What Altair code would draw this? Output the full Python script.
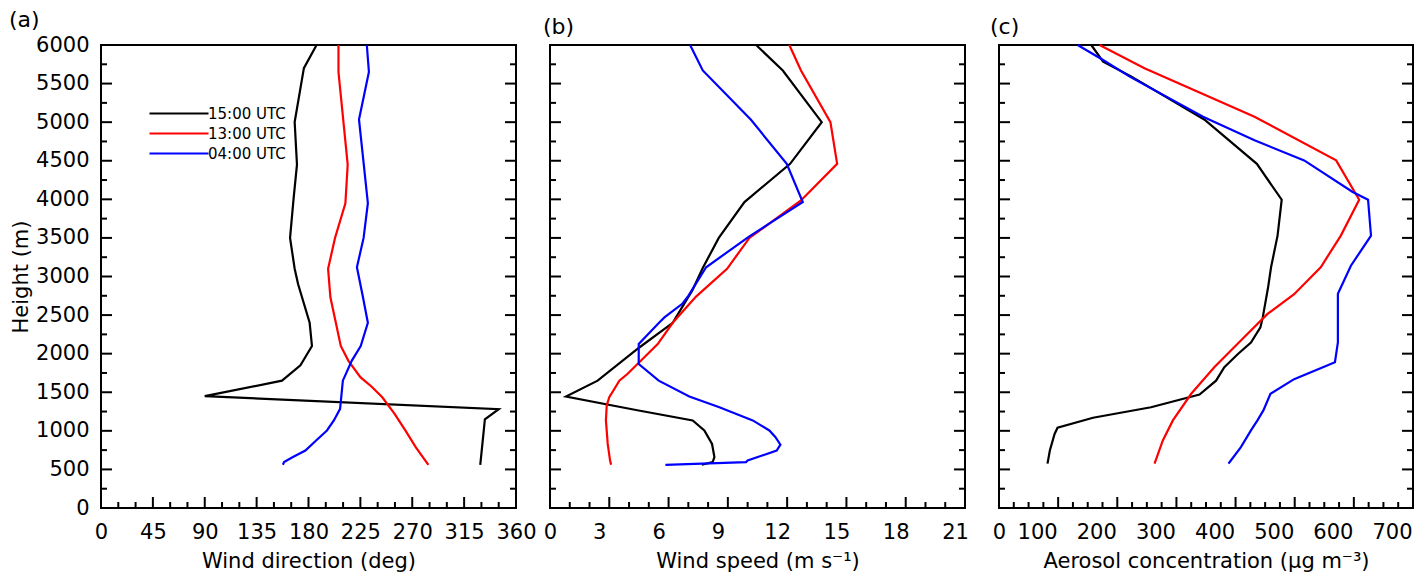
import altair as alt
import pandas as pd

SERIES = ["15:00 UTC", "13:00 UTC", "04:00 UTC"]
COLORS = ["#000000", "#ff0000", "#0000ff"]
FONT = "DejaVu Sans"

# ---------------- Panel (a): wind direction (deg) ----------------
dir_h_15 = [6000, 5700, 5000, 4450, 4000, 3500, 3100, 2900, 2400, 2100, 1850, 1650, 1450, 1280, 1150, 1000, 560]
dir_v_15 = [187, 176, 168, 170, 167, 164, 168, 171, 181, 183, 173, 157, 90, 345, 333, 332, 329]
dir_h_13 = [6000, 5650, 4450, 3950, 3500, 3100, 2730, 2100, 1910, 1695, 1575, 1435, 1220, 1005, 790, 560]
dir_v_13 = [206, 206, 214, 212, 203, 197, 199, 208, 214.5, 225, 234.6, 244, 254.7, 264, 273, 284]
dir_h_04 = [6000, 5650, 5035, 3950, 3500, 3120, 2750, 2400, 2100, 1910, 1650, 1285, 1135, 1005, 875, 745, 660, 595, 560]
dir_v_04 = [230.6, 232.4, 223.8, 231.5, 227.8, 222, 227, 231.5, 225.3, 217.6, 209.8, 207.4, 202, 196, 186.6, 177.3, 166.5, 158.8, 157.8]

# ---------------- Panel (b): wind speed (m s-1) ----------------
spd_h_15 = [6000, 5670, 5000, 4460, 3965, 3500, 3110, 2820, 2400, 2080, 1650, 1445, 1270, 1135, 1005, 830, 660, 595, 560]
spd_v_15 = [10.43, 11.78, 13.75, 12.15, 9.84, 8.54, 7.73, 7.2, 6.21, 4.52, 2.41, 0.81, 4.35, 7.22, 7.81, 8.2, 8.32, 8.23, 7.68]
spd_h_13 = [6000, 5670, 5000, 4460, 3985, 3500, 3100, 2740, 2400, 2125, 1995, 1740, 1650, 1520, 1435, 1330, 1135, 830, 615, 560]
spd_v_13 = [12.11, 12.70, 14.19, 14.53, 12.70, 10.09, 8.96, 7.39, 6.21, 5.45, 4.94, 3.93, 3.51, 3.2, 3.0, 2.87, 2.83, 2.92, 3.04, 3.09]
spd_h_04 = [6000, 5670, 5030, 4460, 3965, 3520, 3120, 2750, 2650, 2470, 2405, 2125, 1865, 1650, 1445, 1305, 1135, 1005, 920, 820, 745, 615, 595, 560]
spd_v_04 = [7.09, 7.73, 10.17, 11.98, 12.79, 10.09, 7.9, 7.0, 6.71, 5.79, 5.53, 4.49, 4.49, 5.5, 7.05, 8.57, 10.26, 11.1, 11.4, 11.66, 11.47, 10.0, 9.92, 5.84]

# ---------------- Panel (c): aerosol concentration (ug m-3) ----------------
aer_h_15 = [6000, 5785, 5590, 5035, 4460, 3995, 3530, 3120, 2860, 2470, 2340, 2145, 1995, 1825, 1650, 1470, 1305, 1170, 1040, 960, 745, 575]
aer_v_15 = [156, 176, 224, 347, 436, 478, 471, 460, 455, 446, 442, 426, 404, 381, 367, 339, 257, 159, 99, 94, 86, 82]
aer_h_13 = [6000, 5700, 5070, 4505, 3995, 3530, 3120, 2770, 2515, 2170, 1825, 1480, 1135, 875, 575]
aer_v_13 = [170, 246, 432, 570, 609, 578, 544, 499, 454, 409, 364, 325, 294, 277, 263]
aer_h_04 = [6000, 5805, 5590, 5070, 4765, 4505, 4095, 3995, 3530, 3140, 2775, 2145, 1890, 1670, 1480, 1265, 1135, 1005, 790, 615, 575]
aer_v_04 = [133, 176, 221, 345, 432, 516, 598, 624, 629, 595, 573, 573, 568, 499, 459, 447, 437, 426, 409, 392, 388]

Y_MAJOR = list(range(0, 6001, 500))
Y_MINOR = list(range(250, 6000, 500))

H = 463
MAJ = 11
MIN = 6


def make_df(hs, vs):
    rows = []
    for name, h, v in zip(SERIES, hs, vs):
        for hh, vv in zip(h, v):
            rows.append({"series": name, "height": hh, "value": vv})
    return pd.DataFrame(rows)


def panel(df, W, xdomain, xmajor, xminor, xtitle, shift, show_y, show_legend, label, label_dx):
    xscale = alt.Scale(domain=xdomain, nice=False, zero=False)
    yscale = alt.Scale(domain=[0, 6000], nice=False)
    if shift == 0:
        loff = 0
    else:
        loff = {"condition": {"test": "datum.value == 0", "value": 0}, "value": shift}
    xaxis = alt.Axis(values=xmajor, title=xtitle, ticks=False, tickSize=0, domain=False, grid=False,
                     labelPadding=13, titlePadding=8, labelFlush=False, labelOverlap=False,
                     labelOffset=loff, format="d")
    if show_y:
        yaxis = alt.Axis(values=Y_MAJOR, title="Height (m)", ticks=False, tickSize=0, domain=False,
                         grid=False, labelPadding=12, titlePadding=4, labelFlush=False,
                         labelOverlap=False, format="d")
    else:
        yaxis = None

    if show_legend:
        legend = alt.Legend(title=None, orient="none", legendX=46, legendY=61,
                            symbolType="M-1,0L10.8,0", symbolSize=100, symbolStrokeWidth=2,
                            labelFontSize=15, labelFont=FONT, labelColor="black",
                            labelOffset=46, rowPadding=4, padding=0)
    else:
        legend = None

    lines = alt.Chart(df).mark_line(strokeWidth=2.2).encode(
        x=alt.X("value:Q", scale=xscale, axis=xaxis),
        y=alt.Y("height:Q", scale=yscale, axis=yaxis),
        color=alt.Color("series:N", scale=alt.Scale(domain=SERIES, range=COLORS), legend=legend),
        order=alt.Order("height:Q"),
    )

    def yticks(vals, ln, right):
        d = pd.DataFrame({"v": vals})
        if right:
            xs = dict(x=alt.value(W), x2=alt.value(W - ln))
        else:
            xs = dict(x=alt.value(0), x2=alt.value(ln))
        return alt.Chart(d).mark_rule(color="black", strokeWidth=2).encode(
            y=alt.Y("v:Q", scale=yscale, axis=yaxis), **xs)

    def xticks(vals, ln):
        d = pd.DataFrame({"v": vals})
        return alt.Chart(d).mark_rule(color="black", strokeWidth=2).encode(
            x=alt.X("v:Q", scale=xscale, axis=xaxis), y=alt.value(H), y2=alt.value(H - ln))

    layers = [
        yticks(Y_MAJOR, MAJ, False), yticks(Y_MINOR, MIN, False),
        yticks(Y_MAJOR, MAJ, True), yticks(Y_MINOR, MIN, True),
        xticks(xmajor, MAJ), xticks(xminor, MIN),
        lines,
    ]
    return alt.layer(*layers).properties(
        width=W, height=H,
        title=alt.TitleParams(label, anchor="start", frame="group", dx=label_dx, offset=2,
                              fontSize=22, font=FONT, fontWeight="normal", color="black"),
    )


df_a = make_df([dir_h_15, dir_h_13, dir_h_04], [dir_v_15, dir_v_13, dir_v_04])
df_b = make_df([spd_h_15, spd_h_13, spd_h_04], [spd_v_15, spd_v_13, spd_v_04])
df_c = make_df([aer_h_15, aer_h_13, aer_h_04], [aer_v_15, aer_v_13, aer_v_04])

a_major = list(range(0, 361, 45))
a_minor = [v for v in range(0, 361, 15) if v % 45]
b_major = list(range(0, 22, 3))
b_minor = [v for v in range(0, 22) if v % 3]
c_major = list(range(0, 701, 100))
c_minor = [v for v in range(0, 701, 25) if v % 100]

pa = panel(df_a, 415, [0, 360], a_major, a_minor, "Wind direction (deg)", 0, True, True, "(a)", -92)
pb = panel(df_b, 415, [0, 21], b_major, b_minor, "Wind speed (m s\u207b\u00b9)", -10, False, False, "(b)", -7)
pc = panel(df_c, 414, [0, 700], c_major, c_minor, "Aerosol concentration (\u00b5g m\u207b\u00b3)", -21, False, False, "(c)", -9)

chart = alt.hconcat(pa, pb, pc, spacing=34, bounds="flush").resolve_scale(
    color="shared"
).properties(
    padding={"left": 0, "top": 0, "right": 0, "bottom": 0}
).configure_view(
    stroke="black", strokeWidth=2
).configure_axis(
    labelFont=FONT, titleFont=FONT, labelFontSize=21, titleFontSize=21,
    labelColor="black", titleColor="black", titleFontWeight="normal"
)

chart.save("out.html", embed_options={"renderer": "svg", "actions": False})
